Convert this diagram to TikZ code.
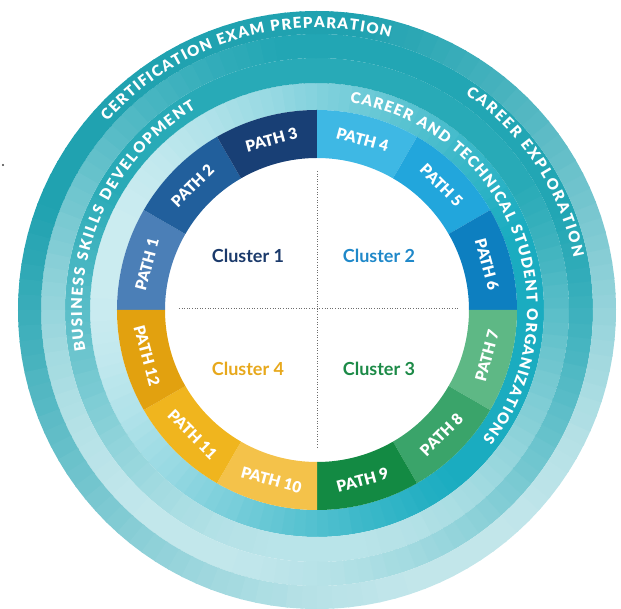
\documentclass[tikz,border=0pt]{standalone}
\usepackage{fontspec}
\setmainfont{Lato}
\newfontfamily\heavyfont{Lato Black}
\usetikzlibrary{decorations.text}
\definecolor{ringA}{RGB}{26,172,192}
\definecolor{ringB}{RGB}{40,170,183}
\definecolor{ringC}{RGB}{34,166,180}
\definecolor{ringD}{RGB}{32,162,176}
\definecolor{ringpale}{RGB}{234,247,249}
\definecolor{pc1}{RGB}{75,127,183}
\definecolor{pc2}{RGB}{33,95,156}
\definecolor{pc3}{RGB}{24,63,117}
\definecolor{pc4}{RGB}{62,184,228}
\definecolor{pc5}{RGB}{34,166,220}
\definecolor{pc6}{RGB}{13,127,192}
\definecolor{pc7}{RGB}{94,184,133}
\definecolor{pc8}{RGB}{58,164,106}
\definecolor{pc9}{RGB}{19,138,67}
\definecolor{pc10}{RGB}{244,194,74}
\definecolor{pc11}{RGB}{240,181,30}
\definecolor{pc12}{RGB}{226,161,15}
\definecolor{cl1}{RGB}{27,58,107}
\definecolor{cl2}{RGB}{31,136,201}
\definecolor{cl3}{RGB}{28,138,71}
\definecolor{cl4}{RGB}{231,168,28}
\definecolor{dotgray}{RGB}{110,110,110}
\newcommand\pathfont{\fontsize{15.5pt}{16pt}\selectfont\heavyfont}
\newcommand\ringfont{\fontsize{15pt}{16pt}\selectfont\heavyfont}
\newcommand\clusterfont{\fontsize{18pt}{18pt}\selectfont\bfseries}
\tikzset{
  pathlabel/.style={text=white, font=\pathfont, inner sep=0pt},
  clusterlabel/.style={font=\clusterfont, inner sep=0pt},
  divider/.style={dotgray, line width=1pt, dash pattern=on 1pt off 1.6pt},
  ringtext/.style={decorate, decoration={text along path, text={|\ringfont|#1}, text align=fit to path, text color=white}}
}
\begin{document}
\begin{tikzpicture}[x=1pt,y=1pt]
\useasboundingbox (-317,-299) rectangle (304,310);
% gradient rings
\foreach \rin/\rout/\base/\offs/\amp/\dir in {200/227/ringA/62/47/-15, 227/252/ringB/75/50/90, 252/276/ringC/65/45/60, 276/299/ringD/65/45/120}{
  \foreach \a in {0,3,...,357}{
    \pgfmathtruncatemacro\f{max(10,min(100,\offs+\amp*cos(\a+1.5-\dir)))}
    \fill[\base!\f!ringpale] (\a:\rin) arc[start angle=\a, end angle=\a+3.4, radius=\rin] -- (\a+3.4:\rout) arc[start angle=\a+3.4, end angle=\a, radius=\rout] -- cycle;
  }
}
% path segments
\foreach \s/\e/\n in {180/150/1, 150/120/2, 120/90/3, 90/60/4, 60/30/5, 30/0/6, 0/-30/7, -30/-60/8, -60/-90/9, -90/-120/10, -120/-150/11, -150/-180/12}{
  \fill[pc\n] (\s:152) arc[start angle=\s, end angle=\e, radius=152] -- (\e:200) arc[start angle=\e, end angle=\s, radius=200] -- cycle;
  \pgfmathsetmacro\m{(\s+\e)/2}
  \pgfmathsetmacro\rot{\m>0 ? \m-90 : \m+90}
  \node[pathlabel, rotate=\rot] (p\n) at (\m:176) {PATH \n};
}
% ring texts
\path[ringtext={CERTIFICATION EXAM PREPARATION}] (138:282) arc[start angle=138, end angle=75, radius=282];
\path[ringtext={CAREER EXPLORATION}] (55.5:262) arc[start angle=55.5, end angle=11.5, radius=262];
\path[ringtext={CAREER AND TECHNICAL STUDENT ORGANIZATIONS}] (81:210) arc[start angle=81, end angle=-38, radius=210];
\path[ringtext={BUSINESS SKILLS DEVELOPMENT}] (190:235) arc[start angle=190, end angle=121, radius=235];
% dividers
\coordinate (vt) at (0,139);
\coordinate (vb) at (0,-137);
\coordinate (hl) at (-138,1);
\coordinate (hr) at (141,1);
\draw[divider] (vt) -- (vb);
\draw[divider] (hl) -- (hr);
% clusters
\node[clusterlabel, text=cl1] (c1) at (-69,54) {Cluster 1};
\node[clusterlabel, text=cl2] (c2) at (62,54) {Cluster 2};
\node[clusterlabel, text=cl3] (c3) at (62,-59) {Cluster 3};
\node[clusterlabel, text=cl4] (c4) at (-69,-59) {Cluster 4};
% stray dot
\node[circle, fill=black!75, inner sep=0.8pt] (dot) at (-314,145) {};
\end{tikzpicture}
\end{document}
